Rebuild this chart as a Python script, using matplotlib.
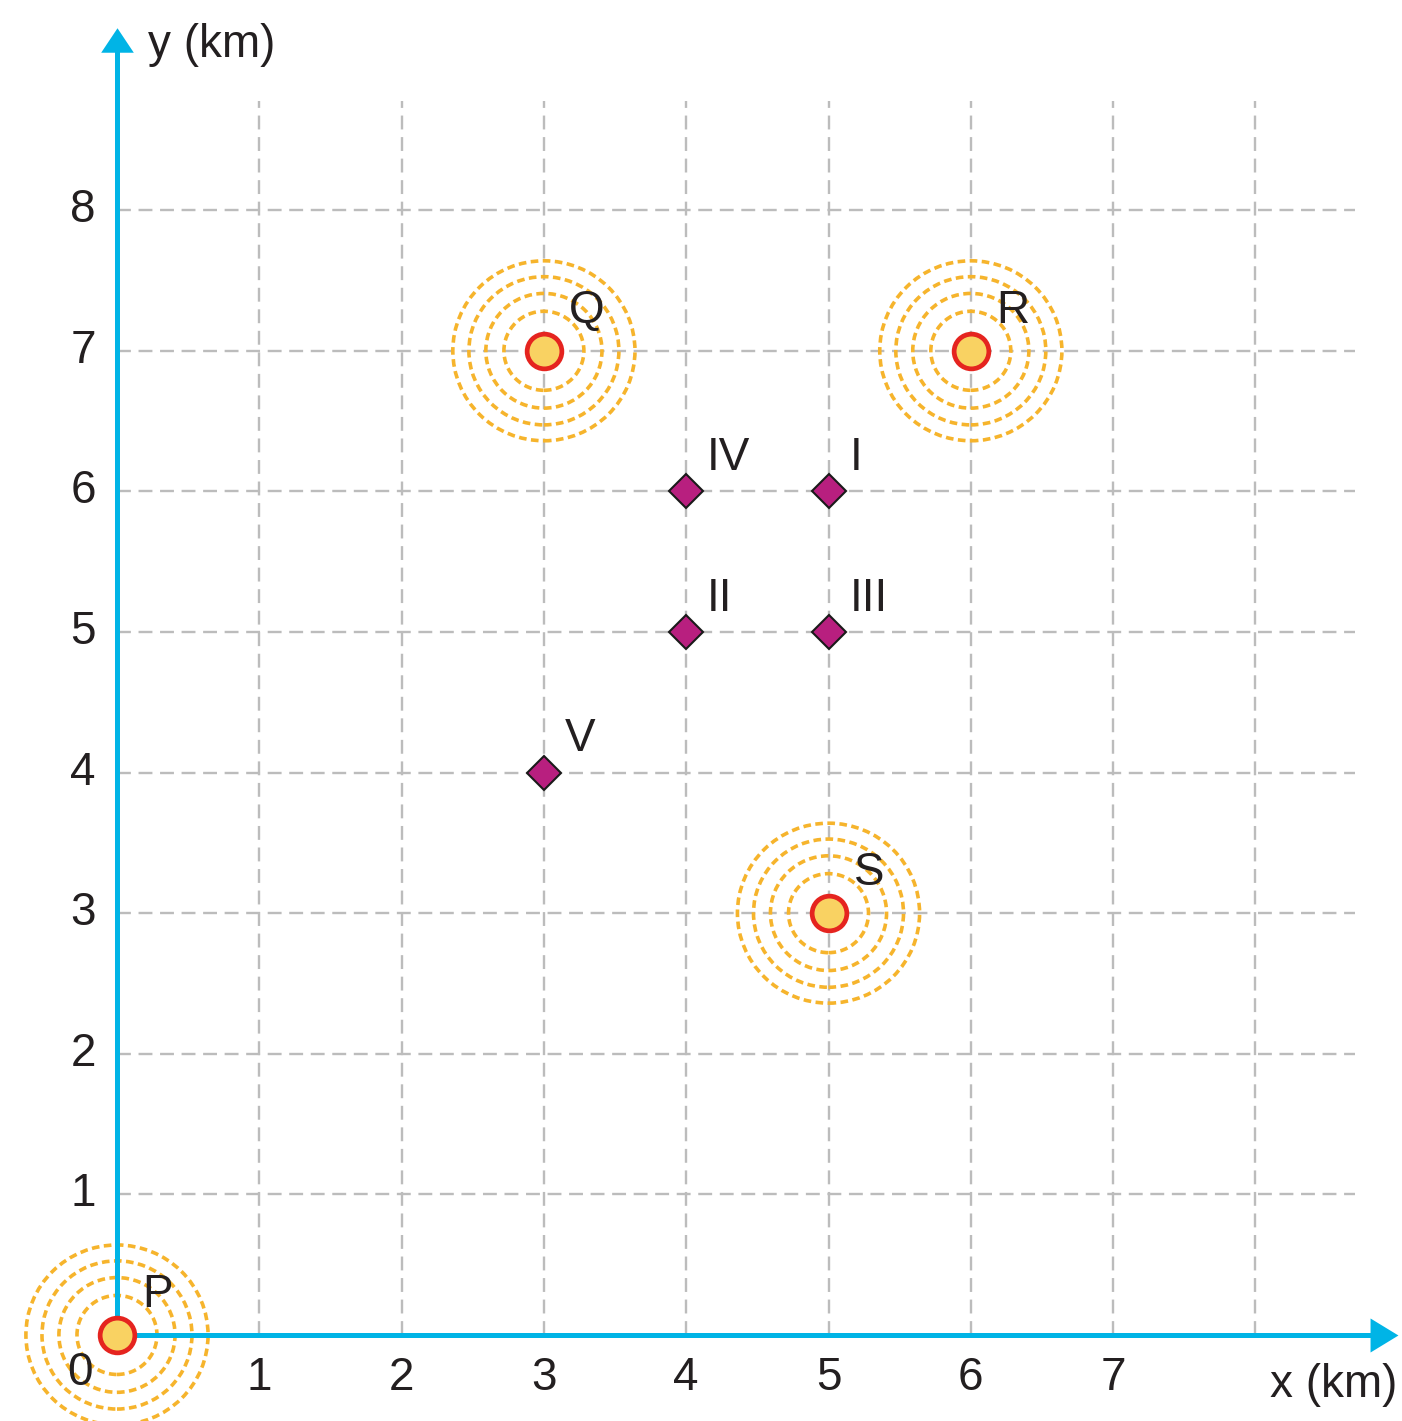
import numpy as np
import matplotlib
matplotlib.use('Agg')
from matplotlib import pyplot as plt
from matplotlib.patches import Circle

# data
gridX = [1, 2, 3, 4, 5, 6, 7, 8]
gridY = [1, 2, 3, 4, 5, 6, 7, 8]
xTickLabels = ['1', '2', '3', '4', '5', '6', '7']
yTickLabels = ['1', '2', '3', '4', '5', '6', '7', '8']
srcNames = ['P', 'Q', 'R', 'S']
srcX = [0, 3, 6, 5]
srcY = [0, 7, 7, 3]
siteNames = ['I', 'II', 'III', 'IV', 'V']
siteX = [5, 4, 5, 4, 3]
siteY = [6, 5, 5, 6, 4]
ringRadii = [0.281, 0.408, 0.527, 0.640]

# colours
cyan = '#00b4e6'
gridGrey = '#bcbcbc'
ringOrange = '#f6b42c'
dotFill = '#f9d262'
dotEdge = '#e5241f'
siteFill = '#b81f7f'
textCol = '#231f20'

plt.rcParams['font.family'] = ['Liberation Sans', 'DejaVu Sans']
plt.rcParams['lines.scale_dashes'] = False
fs = 33

fig = plt.figure(figsize=(14.02, 14.21), dpi=100)
ax = fig.add_axes([0, 0, 1, 1])
ax.set_xlim(-0.822, 9.030)
ax.set_ylim(-0.612, 9.495)
ax.axis('off')

# dashed grid
ax.vlines(gridX, 0, 8.78, colors=gridGrey, lw=1.7, linestyles=(0, (10, 5.5)), zorder=1)
ax.hlines(gridY, 0, 8.70, colors=gridGrey, lw=1.7, linestyles=(0, (10, 5.5)), zorder=1)

# rings round the sources
for sx, sy in zip(srcX, srcY):
    for r in ringRadii:
        ax.add_patch(Circle((sx, sy), r, fill=False, ec=ringOrange, lw=2.6,
                            ls=(0, (5.5, 3.2)), zorder=2))

# axes with arrow heads
ax.plot([0, 0], [0, 9.2], color=cyan, lw=3.6, solid_capstyle='butt', zorder=3)
ax.plot([0, 8.9], [0, 0], color=cyan, lw=3.6, solid_capstyle='butt', zorder=3)
upHead = [(-1, -0.75), (1, -0.75), (0, 0.75), (-1, -0.75)]
rightHead = [(-0.82, -1), (-0.82, 1), (0.82, 0), (-0.82, -1)]
ax.plot(0, 9.207, marker=upHead, ms=23.5, color=cyan, mew=0, zorder=3)
ax.plot(8.90, 0, marker=rightHead, ms=24.5, color=cyan, mew=0, zorder=3)

# tick labels
for x, lab in zip(gridX, xTickLabels):
    ax.text(x, -0.306, lab, fontsize=fs, color=textCol, ha='center', va='center')
for y, lab in zip(gridY, yTickLabels):
    ax.text(-0.15, y, lab, fontsize=fs, color=textCol, ha='right', va='center')
ax.text(-0.26, -0.27, '0', fontsize=fs, color=textCol, ha='center', va='center')
ax.text(0.218, 9.175, 'y (km)', fontsize=fs, color=textCol, ha='left', va='center')
ax.text(8.10, -0.356, 'x (km)', fontsize=fs, color=textCol, ha='left', va='center')

# sources
ax.plot(srcX, srcY, 'o', ms=25, mfc=dotFill, mec=dotEdge, mew=3.4, ls='none', zorder=4)
for name, sx, sy in zip(srcNames, srcX, srcY):
    ax.annotate(name, (sx, sy), xytext=(18, 29), textcoords='offset points',
                fontsize=fs, color=textCol, ha='left', va='center', zorder=5)

# candidate sites
ax.plot(siteX, siteY, 'D', ms=17, mfc=siteFill, mec='#1a1a1a', mew=1.5, ls='none', zorder=4)
for name, sx, sy in zip(siteNames, siteX, siteY):
    ax.annotate(name, (sx, sy), xytext=(15, 24), textcoords='offset points',
                fontsize=fs, color=textCol, ha='left', va='center', zorder=5)

fig.savefig('out.png', dpi=100)
